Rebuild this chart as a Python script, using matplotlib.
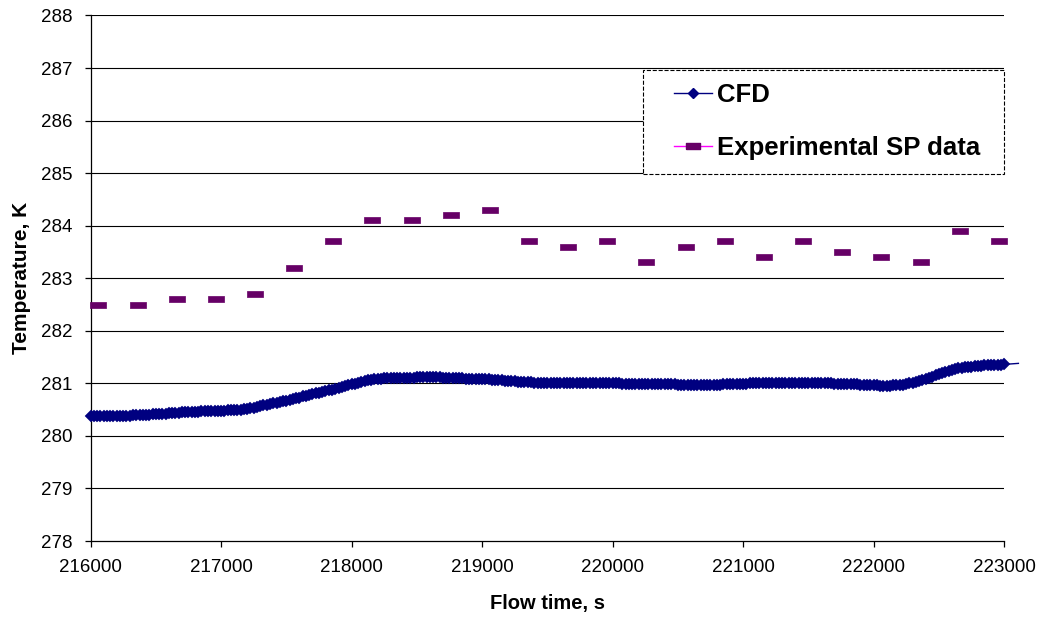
import numpy as np
import matplotlib
matplotlib.use("Agg")
import matplotlib.pyplot as plt
from matplotlib.lines import Line2D
from matplotlib.legend_handler import HandlerLine2D

plt.rcParams['font.family'] = ['Liberation Sans', 'DejaVu Sans']

# ---------------- data ----------------
# CFD result, one value every 25 s from 216000 s to 223000 s
cfd_t0, cfd_t1, cfd_dt = 216000, 223000, 25
cfd_temp = [
    # 216000 - 216475
    280.37, 280.37, 280.37, 280.37, 280.37, 280.38, 280.38, 280.38, 280.38, 280.38,
    280.38, 280.38, 280.38, 280.39, 280.39, 280.39, 280.40, 280.40, 280.40, 280.41,
    # 216500 - 216975
    280.41, 280.41, 280.42, 280.42, 280.43, 280.43, 280.44, 280.44, 280.45, 280.45,
    280.45, 280.46, 280.46, 280.46, 280.47, 280.47, 280.47, 280.47, 280.48, 280.48,
    # 217000 - 217475
    280.48, 280.48, 280.49, 280.49, 280.49, 280.50, 280.50, 280.51, 280.52, 280.53,
    280.54, 280.55, 280.56, 280.58, 280.59, 280.60, 280.62, 280.63, 280.64, 280.66,
    # 217500 - 217975
    280.67, 280.69, 280.70, 280.72, 280.73, 280.75, 280.76, 280.78, 280.79, 280.81,
    280.82, 280.84, 280.85, 280.87, 280.88, 280.90, 280.91, 280.93, 280.94, 280.96,
    # 218000 - 218475
    280.98, 280.99, 281.01, 281.03, 281.05, 281.06, 281.07, 281.08, 281.09, 281.09,
    281.10, 281.10, 281.10, 281.10, 281.11, 281.11, 281.11, 281.11, 281.11, 281.11,
    # 218500 - 218975
    281.12, 281.12, 281.12, 281.12, 281.12, 281.12, 281.12, 281.12, 281.11, 281.11,
    281.11, 281.11, 281.10, 281.10, 281.10, 281.09, 281.09, 281.09, 281.09, 281.08,
    # 219000 - 219475
    281.08, 281.08, 281.08, 281.07, 281.07, 281.06, 281.06, 281.05, 281.05, 281.04,
    281.04, 281.03, 281.03, 281.02, 281.02, 281.02, 281.01, 281.01, 281.01, 281.01,
    # 219500 - 219975
    281.00, 281.00, 281.00, 281.00, 281.00, 281.00, 281.00, 281.00, 281.00, 281.00,
    281.00, 281.00, 281.00, 281.00, 281.00, 281.00, 281.00, 281.00, 281.00, 281.00,
    # 220000 - 220475
    281.00, 281.00, 281.00, 280.99, 280.99, 280.99, 280.99, 280.99, 280.99, 280.99,
    280.98, 280.98, 280.98, 280.98, 280.98, 280.98, 280.98, 280.98, 280.98, 280.98,
    # 220500 - 220975
    280.97, 280.97, 280.97, 280.97, 280.97, 280.97, 280.97, 280.97, 280.97, 280.97,
    280.97, 280.97, 280.97, 280.97, 280.98, 280.98, 280.98, 280.98, 280.98, 280.99,
    # 221000 - 221475
    280.99, 280.99, 281.00, 281.00, 281.00, 281.01, 281.01, 281.01, 281.01, 281.01,
    281.01, 281.01, 281.01, 281.01, 281.01, 281.01, 281.01, 281.00, 281.00, 281.00,
    # 221500 - 221975
    281.00, 281.00, 281.00, 281.00, 281.00, 281.00, 281.00, 281.00, 280.99, 280.99,
    280.99, 280.99, 280.99, 280.98, 280.98, 280.98, 280.97, 280.97, 280.97, 280.96,
    # 222000 - 222475
    280.96, 280.96, 280.95, 280.95, 280.95, 280.95, 280.96, 280.96, 280.97, 280.97,
    280.98, 281.00, 281.01, 281.03, 281.05, 281.07, 281.09, 281.11, 281.13, 281.15,
    # 222500 - 222975
    281.17, 281.19, 281.21, 281.23, 281.25, 281.27, 281.29, 281.30, 281.31, 281.32,
    281.32, 281.33, 281.33, 281.33, 281.34, 281.34, 281.34, 281.35, 281.35, 281.35,
    # 223000
    281.36,
]
cfd_time = np.arange(cfd_t0, cfd_t1 + cfd_dt, cfd_dt)

# line continues a little past the axis end (no markers there)
cfd_tail_time = [223000, 223110]
cfd_tail_temp = [281.36, 281.38]

# experimental SP data
exp_time = [216060, 216360, 216660, 216960, 217260, 217560, 217860, 218160,
            218460, 218760, 219060, 219360, 219660, 219960, 220260, 220560,
            220860, 221160, 221460, 221760, 222060, 222360, 222660, 222960]
exp_temp = [282.5, 282.5, 282.6, 282.6, 282.7, 283.2, 283.7, 284.1,
            284.1, 284.2, 284.3, 283.7, 283.6, 283.7, 283.3, 283.6,
            283.7, 283.4, 283.7, 283.5, 283.4, 283.3, 283.9, 283.7]

x_ticks = [216000, 217000, 218000, 219000, 220000, 221000, 222000, 223000]
y_ticks = [278, 279, 280, 281, 282, 283, 284, 285, 286, 287, 288]

series_names = ["CFD", "Experimental SP data"]
x_label = "Flow time, s"
y_label = "Temperature, K"

# ---------------- styling ----------------
NAVY = "#000080"
PURPLE = "#660066"
MAGENTA = "#FF00FF"
dash_marker = [(-0.5, -0.2), (0.5, -0.2), (0.5, 0.2), (-0.5, 0.2), (-0.5, -0.2)]

fig = plt.figure(figsize=(10.41, 6.19), dpi=100)
ax = fig.add_axes([0.087, 0.126, 0.8775, 0.849])

ax.set_xlim(x_ticks[0], x_ticks[-1])
ax.set_ylim(y_ticks[0], y_ticks[-1])
ax.set_xticks(x_ticks)
ax.set_yticks(y_ticks)
ax.set_xticklabels([str(v) for v in x_ticks])
ax.set_yticklabels([str(v) for v in y_ticks])

for y in y_ticks[1:]:
    ax.axhline(y, color="black", lw=0.8, zorder=1)

ax.plot(cfd_tail_time, cfd_tail_temp, color=NAVY, lw=1.0, clip_on=False, zorder=3)
ax.plot(cfd_time, cfd_temp, color=NAVY, lw=1.0, marker="D", markersize=6.3,
        markerfacecolor=NAVY, markeredgecolor=NAVY, markeredgewidth=0.3,
        clip_on=False, zorder=4)
ax.plot(exp_time, exp_temp, linestyle="none", marker=dash_marker, markersize=11,
        markerfacecolor=PURPLE, markeredgecolor=PURPLE, markeredgewidth=0.5,
        clip_on=False, zorder=4)

for s in ["top", "right"]:
    ax.spines[s].set_visible(False)
for s in ["left", "bottom"]:
    ax.spines[s].set_color("black")
    ax.spines[s].set_linewidth(0.9)

ax.tick_params(axis="both", direction="out", length=4, width=0.9, colors="black",
               labelsize=13.5, pad=9)

ax.set_xlabel(x_label, fontsize=14.5, fontweight="bold", labelpad=13)
ax.set_ylabel(y_label, fontsize=15, fontweight="bold", labelpad=7)

handles = [
    Line2D([], [], color=NAVY, lw=1.0, marker="D", markersize=5, markerfacecolor=NAVY,
           markeredgecolor=NAVY),
    Line2D([], [], color=MAGENTA, lw=1.0, marker=dash_marker, markersize=10,
           markerfacecolor=PURPLE, markeredgecolor=PURPLE),
]
leg = ax.legend(handles, series_names, loc="upper left",
                bbox_to_anchor=(0.605, 0.896, 0.395, 0.0), mode="expand",
                borderaxespad=0, fancybox=False, frameon=True,
                prop={"size": 18.5, "weight": "bold"}, handlelength=2.14,
                handletextpad=0.23, labelspacing=1.12, borderpad=0.52,
                handler_map={Line2D: HandlerLine2D(xpad=0.66)})
frame = leg.get_frame()
frame.set_edgecolor("black")
frame.set_linestyle("--")
frame.set_linewidth(0.8)
frame.set_facecolor("white")
frame.set_alpha(1.0)
leg.set_zorder(10)

fig.savefig("out.png", dpi=100)
